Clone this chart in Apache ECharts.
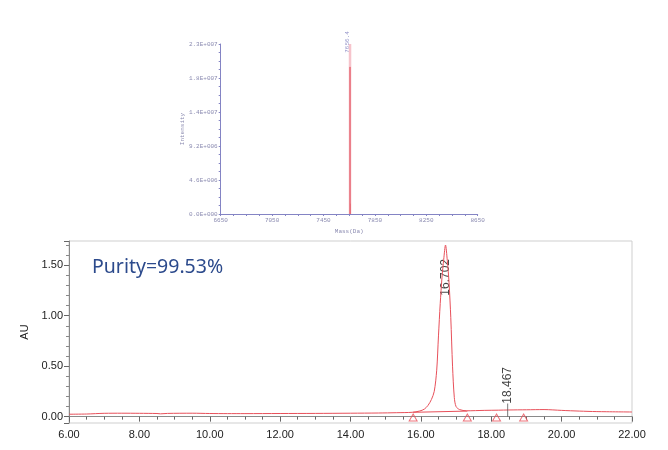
<!DOCTYPE html>
<html>
<head>
<meta charset="utf-8">
<script src="https://cdn.jsdelivr.net/npm/echarts@6/dist/echarts.min.js"></script>
<style>
html,body{margin:0;padding:0;background:#fff;}
#chart{width:668px;height:450px;}
</style>
</head>
<body>
<div id="chart"></div>
<script>
// ---- Mass spectrum (inset) ----
var massPeakX = [7656.4, 7656.4];
var massPeakLight = [0, 23000000];
var massPeakMain = [0, 19900000];
var massMinorX = [7660, 7660];
var massMinorY = [0, 1400000];
var massPeakLabel = '7656.4';

// ---- Chromatogram ----
var rtTime = [6.0, 6.5, 7.0, 7.5, 8.0, 8.5, 8.6, 8.8, 9.5, 10.0, 10.5, 11.0, 12.0, 13.0, 14.0, 14.8, 15.3, 15.75, 15.97, 16.10, 16.20, 16.30, 16.38, 16.45, 16.50, 16.55, 16.60, 16.65, 16.70, 16.75, 16.80, 16.85, 16.90, 16.95, 17.00, 17.10, 17.30, 17.80, 18.20, 18.50, 19.00, 19.50, 20.00, 20.50, 21.00, 22.00];
var auValues = [0.024, 0.026, 0.033, 0.034, 0.033, 0.031, 0.028, 0.032, 0.034, 0.031, 0.030, 0.030, 0.031, 0.032, 0.034, 0.036, 0.039, 0.043, 0.056, 0.075, 0.11, 0.17, 0.25, 0.46, 0.80, 1.12, 1.38, 1.56, 1.70, 1.55, 1.33, 0.98, 0.50, 0.19, 0.10, 0.07, 0.058, 0.062, 0.064, 0.066, 0.068, 0.070, 0.062, 0.055, 0.050, 0.046];
var baselineTime = [15.78, 17.32];
var baselineAU = [0.043, 0.055];
var markerTime = [15.78, 17.32, 18.15, 18.92];
var markerAU = [-0.008, -0.008, -0.008, -0.008];
var peakTimes = [16.702, 18.467];
var peakLabelAU = [1.38, 0.31];
var peakTickTime = [18.467, 18.467];
var peakTickAU = [0.0, 0.13];
var purityText = 'Purity=99.53%';

function zip(a, b) { return a.map(function (v, i) { return [v, b[i]]; }); }
function sci(v) {
  var s = Number(v).toExponential(1);
  var parts = s.split('e');
  var exp = parseInt(parts[1], 10);
  var sign = exp < 0 ? '-' : '+';
  var e = String(Math.abs(exp));
  while (e.length < 3) e = '0' + e;
  return parts[0] + 'E' + sign + e;
}

var topColor = '#8484c4';
var topText = '#8a8ab0';
var mono = '"Liberation Mono","DejaVu Sans Mono",monospace';
var sans = '"Liberation Sans",Arial,sans-serif';
var traceColor = '#e8505a';

var chart = echarts.init(document.getElementById('chart'), null, {renderer: 'canvas'});
chart.setOption({
  animation: false,
  backgroundColor: '#fff',
  title: {
    text: purityText,
    left: 92, top: 257, padding: 0,
    textStyle: {fontFamily: '"Noto Sans","Open Sans",sans-serif', fontSize: 19.5, fontWeight: 'normal', color: '#2c4a8c'}
  },
  grid: [
    {left: 220.7, top: 44, width: 257, height: 170, show: false},
    {left: 69, top: 241, width: 563, height: 182, show: true, borderColor: '#cfcfcf', borderWidth: 1, backgroundColor: 'transparent'}
  ],
  xAxis: [
    {
      gridIndex: 0, type: 'value', min: 6650, max: 8650, interval: 400,
      name: 'Mass(Da)', nameLocation: 'middle', nameGap: 14,
      nameTextStyle: {fontFamily: mono, fontSize: 6, color: topText},
      axisLine: {lineStyle: {color: topColor, width: 1}},
      axisTick: {show: true, length: 2, lineStyle: {color: topColor}},
      minorTick: {show: true, splitNumber: 4, length: 2, lineStyle: {color: topColor}},
      splitLine: {show: false},
      axisLabel: {fontFamily: mono, fontSize: 6, color: topText, margin: 3, formatter: function (v) { return String(v); }}
    },
    {
      gridIndex: 1, type: 'value', min: 6, max: 22, interval: 2,
      axisLine: {lineStyle: {color: '#8a8a8a', width: 1}},
      axisTick: {show: true, length: 5, lineStyle: {color: '#666'}},
      minorTick: {show: true, splitNumber: 4, length: 3, lineStyle: {color: '#666'}},
      splitLine: {show: false},
      axisLabel: {fontFamily: sans, fontSize: 11, color: '#222', margin: 6, formatter: function (v) { return v.toFixed(2); }}
    }
  ],
  yAxis: [
    {
      gridIndex: 0, type: 'value', min: 0, max: 23000000, interval: 4600000,
      name: 'Intensity', nameLocation: 'middle', nameGap: 32,
      nameTextStyle: {fontFamily: mono, fontSize: 6, color: topText},
      axisLine: {show: true, lineStyle: {color: topColor, width: 1}},
      axisTick: {show: true, length: 2, lineStyle: {color: topColor}},
      minorTick: {show: true, splitNumber: 4, length: 2, lineStyle: {color: topColor}},
      splitLine: {show: false},
      axisLabel: {fontFamily: mono, fontSize: 6, color: topText, margin: 3, formatter: sci}
    },
    {
      gridIndex: 1, type: 'value', min: -0.063, max: 1.74, splitNumber: 4,
      name: 'AU', nameLocation: 'middle', nameGap: 28,
      nameTextStyle: {fontFamily: sans, fontSize: 11, color: '#222'},
      axisLine: {show: true, lineStyle: {color: '#8a8a8a', width: 1}},
      axisTick: {show: true, length: 5, lineStyle: {color: '#666'}},
      minorTick: {show: true, splitNumber: 5, length: 3, lineStyle: {color: '#888'}},
      splitLine: {show: false},
      axisLabel: {
        fontFamily: sans, fontSize: 11, color: '#222', margin: 6,
        showMinLabel: false, showMaxLabel: false,
        formatter: function (v) {
          var r = Math.round(v / 0.5);
          if (Math.abs(v - r * 0.5) > 1e-6) return '';
          return v.toFixed(2);
        }
      }
    }
  ],
  series: [
    {
      type: 'line', xAxisIndex: 0, yAxisIndex: 0, data: zip(massPeakX, massPeakLight),
      symbol: 'none', lineStyle: {color: '#f6c4cc', width: 2.5}, silent: true
    },
    {
      type: 'line', xAxisIndex: 0, yAxisIndex: 0, data: zip(massPeakX, massPeakMain),
      symbol: 'none', lineStyle: {color: '#e0404e', width: 1}, silent: true
    },
    {
      type: 'line', xAxisIndex: 0, yAxisIndex: 0, data: zip(massMinorX, massMinorY),
      symbol: 'none', lineStyle: {color: '#e8707a', width: 1}, silent: true
    },
    {
      type: 'scatter', xAxisIndex: 0, yAxisIndex: 0,
      data: [[massPeakX[0], massPeakLight[1]]], symbolSize: 0,
      label: {show: true, formatter: massPeakLabel, rotate: 90, position: 'top', distance: 2,
        fontFamily: mono, fontSize: 6, color: '#7070b8'}
    },
    {
      type: 'line', xAxisIndex: 1, yAxisIndex: 1, data: zip(rtTime, auValues),
      symbol: 'none', smooth: 0.3, lineStyle: {color: traceColor, width: 1}
    },
    {
      type: 'line', xAxisIndex: 1, yAxisIndex: 1, data: zip(baselineTime, baselineAU),
      symbol: 'none', lineStyle: {color: traceColor, width: 1}
    },
    {
      type: 'scatter', xAxisIndex: 1, yAxisIndex: 1, data: zip(markerTime, markerAU),
      symbol: 'triangle', symbolSize: [8, 7], clip: false,
      itemStyle: {color: 'rgba(255,255,255,0)', borderColor: traceColor, borderWidth: 1}
    },
    {
      type: 'line', xAxisIndex: 1, yAxisIndex: 1, data: zip(peakTickTime, peakTickAU),
      symbol: 'none', lineStyle: {color: '#555', width: 0.8}
    },
    {
      type: 'scatter', xAxisIndex: 1, yAxisIndex: 1, data: zip(peakTimes, peakLabelAU),
      symbolSize: 0,
      label: {show: true, position: 'inside', rotate: 90,
        formatter: function (p) { return p.value[0].toFixed(3); },
        fontFamily: sans, fontSize: 12, color: '#111'}
    }
  ]
});
</script>
</body>
</html>
